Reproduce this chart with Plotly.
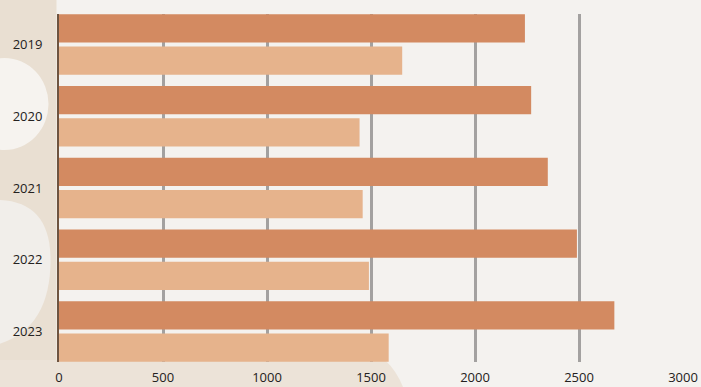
import plotly.graph_objects as go

# Yearly figures, two series per year
years = ["2019", "2020", "2021", "2022", "2023"]
series_a = [2240, 2270, 2350, 2490, 2670]
series_b = [1650, 1445, 1460, 1490, 1585]
x_ticks = [0, 500, 1000, 1500, 2000, 2500, 3000]

DARK = "#D38A61"
LIGHT = "#E6B38C"
BG = "#F4F2EF"
BEIGE = "#E9DFD2"

fig = go.Figure()
fig.add_trace(go.Bar(y=years, x=series_a, orientation="h", marker_color=DARK,
                     marker_line_width=0, showlegend=False))
fig.add_trace(go.Bar(y=years, x=series_b, orientation="h", marker_color=LIGHT,
                     marker_line_width=0, showlegend=False))

# plot area geometry (pixels) used to place the decorative backdrop
W, H = 701, 387
L, R, T, B = 58.5, 17.5, 14, 25
pw, ph = W - L - R, H - T - B


def px(x):
    return (x - L) / pw


def py(y):
    return (H - B - y) / ph


shapes = [
    # beige panel down the left side
    dict(type="rect", xref="paper", yref="paper", x0=px(-5), x1=px(56), y0=py(-5), y1=py(392),
         fillcolor=BEIGE, line_width=0, layer="below"),
    # soft pale blobs over the beige panel
    dict(type="circle", xref="paper", yref="paper", x0=px(-40), x1=px(48), y0=py(150), y1=py(58),
         fillcolor="#F6F3EF", line_width=0, layer="below"),
    dict(type="path", xref="paper", yref="paper",
         path=f"M {px(-5)} {py(200)} Q {px(50)} {py(200)} {px(50)} {py(260)} "
              f"Q {px(50)} {py(330)} {px(-5)} {py(345)} Z",
         fillcolor="#F1EEEA", line_width=0, layer="below"),
    # beige band along the bottom left
    dict(type="path", xref="paper", yref="paper",
         path=f"M {px(-5)} {py(360)} L {px(385)} {py(360)} Q {px(398)} {py(372)} {px(405)} {py(392)} "
              f"L {px(-5)} {py(392)} Z",
         fillcolor="#ECE3D8", line_width=0, layer="below"),
]

fig.update_layout(
    width=W, height=H,
    margin=dict(l=L, r=R, t=T, b=B, pad=0),
    paper_bgcolor=BG,
    plot_bgcolor="rgba(0,0,0,0)",
    barmode="group",
    bargap=0.1,
    bargroupgap=0.12,
    font=dict(family="Open Sans", size=13, color="#242120"),
    shapes=shapes,
    xaxis=dict(range=[0, 3000], tickvals=x_ticks, ticktext=[str(v) for v in x_ticks],
               showgrid=True, gridcolor="#A3A1A0", gridwidth=2.5, zeroline=False,
               showline=False, ticks="", ticklabelstandoff=6, automargin=False,
               tickfont=dict(size=13)),
    yaxis=dict(type="category", range=[4.425, -0.425], showgrid=False, zeroline=False,
               showline=True, linecolor="#6E5440", linewidth=2, automargin=False,
               ticks="", ticklabelstandoff=12, tickfont=dict(size=13)),
)

fig.write_html("out.html")
